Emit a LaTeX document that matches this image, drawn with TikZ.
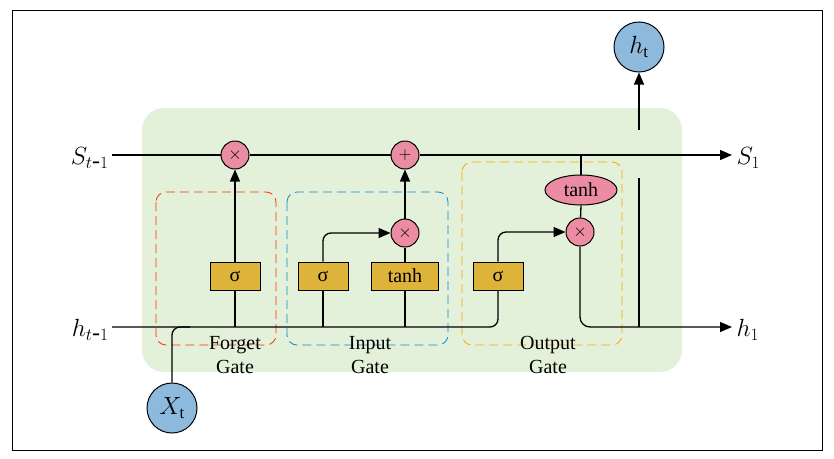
\documentclass[tikz,border=0pt]{standalone}
\usepackage{fontspec}
\setmainfont{Liberation Serif}
\usetikzlibrary{arrows.meta,shapes.geometric}
\definecolor{bggreen}{HTML}{E3F0DA}
\definecolor{opk}{HTML}{EB8CA2}
\definecolor{gbox}{HTML}{DDB33A}
\definecolor{cblue}{HTML}{8DB9DD}
\begin{document}
\begin{tikzpicture}[x=1pt,y=-1pt,font=\fontsize{20}{22}\selectfont,
  op/.style={circle,draw,line width=1pt,fill=opk,minimum size=28pt,inner sep=0pt,font=\fontsize{17}{17}\selectfont},
  gate/.style={rectangle,draw,line width=1pt,fill=gbox,minimum height=28pt,inner sep=0pt},
  io/.style={circle,draw,line width=1pt,fill=cblue,minimum size=50pt,inner sep=0pt,font=\fontsize{24}{24}\selectfont},
  dbox/.style={dashed,dash pattern=on 9pt off 5pt,rounded corners=10pt,line width=0.8pt},
  ln/.style={line width=1.3pt},
  arr/.style={ln,-{Triangle[length=12pt,width=10pt]}},
  lab/.style={font=\fontsize{24}{24}\selectfont}]
\useasboundingbox (0,0) rectangle (834,458);
\draw[line width=0.6pt] (12,10) rectangle (822,450);
\fill[bggreen,rounded corners=22pt] (142,108) rectangle (682,372);
\draw[dbox,color=red!60!orange] (156,192) rectangle (276,345);
\draw[dbox,color=cyan!70!blue] (287,192) rectangle (448,345);
\draw[dbox,color=orange!70!yellow] (462,162) rectangle (622,345);
% nodes
\node[op] (fx) at (235,155) {$\times$};
\node[op] (pl) at (405,155) {$+$};
\node[op] (ix) at (405,233) {$\times$};
\node[op] (ox) at (580,232) {$\times$};
\node[gate,minimum width=50pt] (fs) at (235,276) {σ};
\node[gate,minimum width=50pt] (is) at (323,276) {σ};
\node[gate,minimum width=67pt] (it) at (405,276) {tanh};
\node[gate,minimum width=50pt] (os) at (498,276) {σ};
\node[ellipse,draw,line width=1pt,fill=opk,minimum width=72pt,minimum height=30pt,inner sep=0pt] (ot) at (581,190) {tanh};
\node[io] (ht) at (639,47) {$h_{\mathrm{t}}$};
\node[io] (xt) at (172,408) {$X_{\mathrm{t}}$};
\coordinate (sL) at (112,155); \coordinate (sR) at (732,155);
\coordinate (hL) at (112,327); \coordinate (hR) at (732,327);
\node[lab,anchor=east] (s0) at (112,158) {$S_{t\mbox{-}1}$};
\node[lab,anchor=west] (s1) at (733,158) {$S_1$};
\node[lab,anchor=east] (h0) at (112,330) {$h_{t\mbox{-}1}$};
\node[lab,anchor=west] (h1) at (733,330) {$h_1$};
% lines
\draw[ln] (sL) -- (fx) -- (pl);
\draw[arr] (pl) -- (sR);
\draw[ln,rounded corners=8pt] (hL) -- (498,327) -- (os.south);
\draw[ln,rounded corners=8pt] (xt.north) -- (172,327) -- (190,327);
\draw[arr] (fs.north) -- (fx);
\draw[ln] (fs.south) -- (fs.south |- hL);
\draw[ln] (is.south) -- (is.south |- hL);
\draw[ln] (it.south) -- (it.south |- hL);
\draw[ln] (it.north) -- (ix);
\draw[arr] (ix) -- (pl);
\draw[arr,rounded corners=8pt] (is.north) -- (323,233) -- (ix.west);
\draw[arr,rounded corners=8pt] (os.north) -- (498,232) -- (ox.west);
\draw[ln] (ot.north) -- (581,155);
\draw[ln] (ot.south) -- (ox);
\draw[arr,rounded corners=10pt] (ox.south) -- (580,327) -- (hR);
\coordinate (v1) at (639,178); \coordinate (v2) at (639,327);
\draw[ln] (v1) -- (v2);
\coordinate (v3) at (639,130);
\draw[arr] (v3) -- (ht);
% labels
\node (l1) at (235,345) {Forget};
\node (l1b) at (235,367) {Gate};
\node (l2) at (370,345) {Input};
\node (l2b) at (370,367) {Gate};
\node (l3) at (548,345) {Output};
\node (l3b) at (548,367) {Gate};
\end{tikzpicture}
\end{document}
